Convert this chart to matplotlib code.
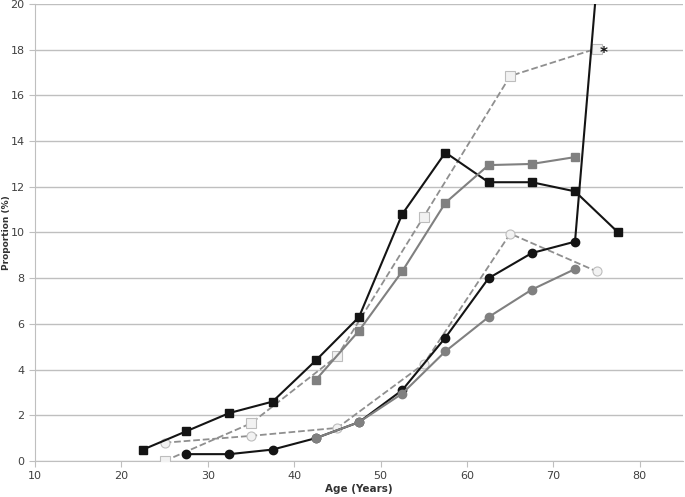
import matplotlib
matplotlib.use("Agg")
import matplotlib.pyplot as plt

# age-group midpoints and proportions (%)
AGE_A = [22.5, 27.5, 32.5, 37.5, 42.5, 47.5, 52.5, 57.5, 62.5, 67.5, 72.5, 77.5]
BLK_SQ = [0.5, 1.3, 2.1, 2.6, 4.4, 6.3, 10.8, 13.5, 12.2, 12.2, 11.8, 10.0]

AGE_B = [42.5, 47.5, 52.5, 57.5, 62.5, 67.5, 72.5]
GRY_SQ = [3.55, 5.7, 8.3, 11.3, 12.95, 13.0, 13.3]

AGE_C = [25, 35, 45, 55, 65, 75]
OPEN_SQ = [0.0, 1.65, 4.6, 10.7, 16.85, 18.05]

AGE_D = [27.5, 32.5, 37.5, 42.5, 47.5, 52.5, 57.5, 62.5, 67.5, 72.5, 77.5]
BLK_CI = [0.3, 0.3, 0.5, 1.0, 1.7, 3.1, 5.4, 8.0, 9.1, 9.6, 32.0]

AGE_E = [42.5, 47.5, 52.5, 57.5, 62.5, 67.5, 72.5]
GRY_CI = [1.0, 1.7, 2.95, 4.8, 6.3, 7.5, 8.4]

AGE_F = [25, 35, 45, 55, 65, 75]
OPEN_CI = [0.8, 1.1, 1.45, 4.25, 9.95, 8.3]

BLACK = "#141414"
GREY = "#808080"
DASH = "#8f8f8f"
OPEN_FACE = "#f2f2f2"
OPEN_EDGE = "#bdbdbd"

fig = plt.figure(figsize=(6.85, 4.97), dpi=100)
ax = fig.add_axes([35 / 685, 36 / 497, (683 - 35) / 685, (461 - 4) / 497])

ms = 6
# circle series first so squares sit on top where they overlap
ax.plot(AGE_F, OPEN_CI, ls="--", color=DASH, lw=1.3, marker="o", ms=ms + 0.5,
        mfc=OPEN_FACE, mec=OPEN_EDGE, mew=0.8, zorder=3)
ax.plot(AGE_D, BLK_CI, ls="-", color=BLACK, lw=1.5, marker="o", ms=ms,
        mfc=BLACK, mec=BLACK, zorder=4)
ax.plot(AGE_E, GRY_CI, ls="-", color=GREY, lw=1.5, marker="o", ms=ms,
        mfc=GREY, mec=GREY, zorder=5)
ax.plot(AGE_C, OPEN_SQ, ls="--", color=DASH, lw=1.3, marker="s", ms=ms + 0.5,
        mfc=OPEN_FACE, mec=OPEN_EDGE, mew=0.8, zorder=3)
ax.plot(AGE_B, GRY_SQ, ls="-", color=GREY, lw=1.5, marker="s", ms=ms,
        mfc=GREY, mec=GREY, zorder=5)
ax.plot(AGE_A, BLK_SQ, ls="-", color=BLACK, lw=1.5, marker="s", ms=ms,
        mfc=BLACK, mec=BLACK, zorder=4)

ax.text(75.8, 17.85, "*", fontsize=11, fontweight="bold", color=BLACK,
        ha="center", va="center", zorder=6)

ax.set_xlim(10, 85)
ax.set_ylim(0, 20)
ax.set_xticks(range(10, 81, 10))
ax.set_yticks(range(0, 21, 2))
ax.yaxis.grid(True, color="#bfbfbf", lw=1)
ax.set_axisbelow(True)
for s in ("top", "right"):
    ax.spines[s].set_visible(False)
for s in ("left", "bottom"):
    ax.spines[s].set_color("#bfbfbf")
ax.tick_params(colors="#bfbfbf", labelcolor="#404040", labelsize=8, length=4)
ax.set_xlabel("Age (Years)", fontsize=7.5, fontweight="bold", color="#333333", labelpad=2)
ax.set_ylabel("Proportion (%)", fontsize=6.5, fontweight="bold", color="#333333")
ax.yaxis.set_label_coords(-0.037, 0.5)

fig.savefig("out.png", dpi=100)
